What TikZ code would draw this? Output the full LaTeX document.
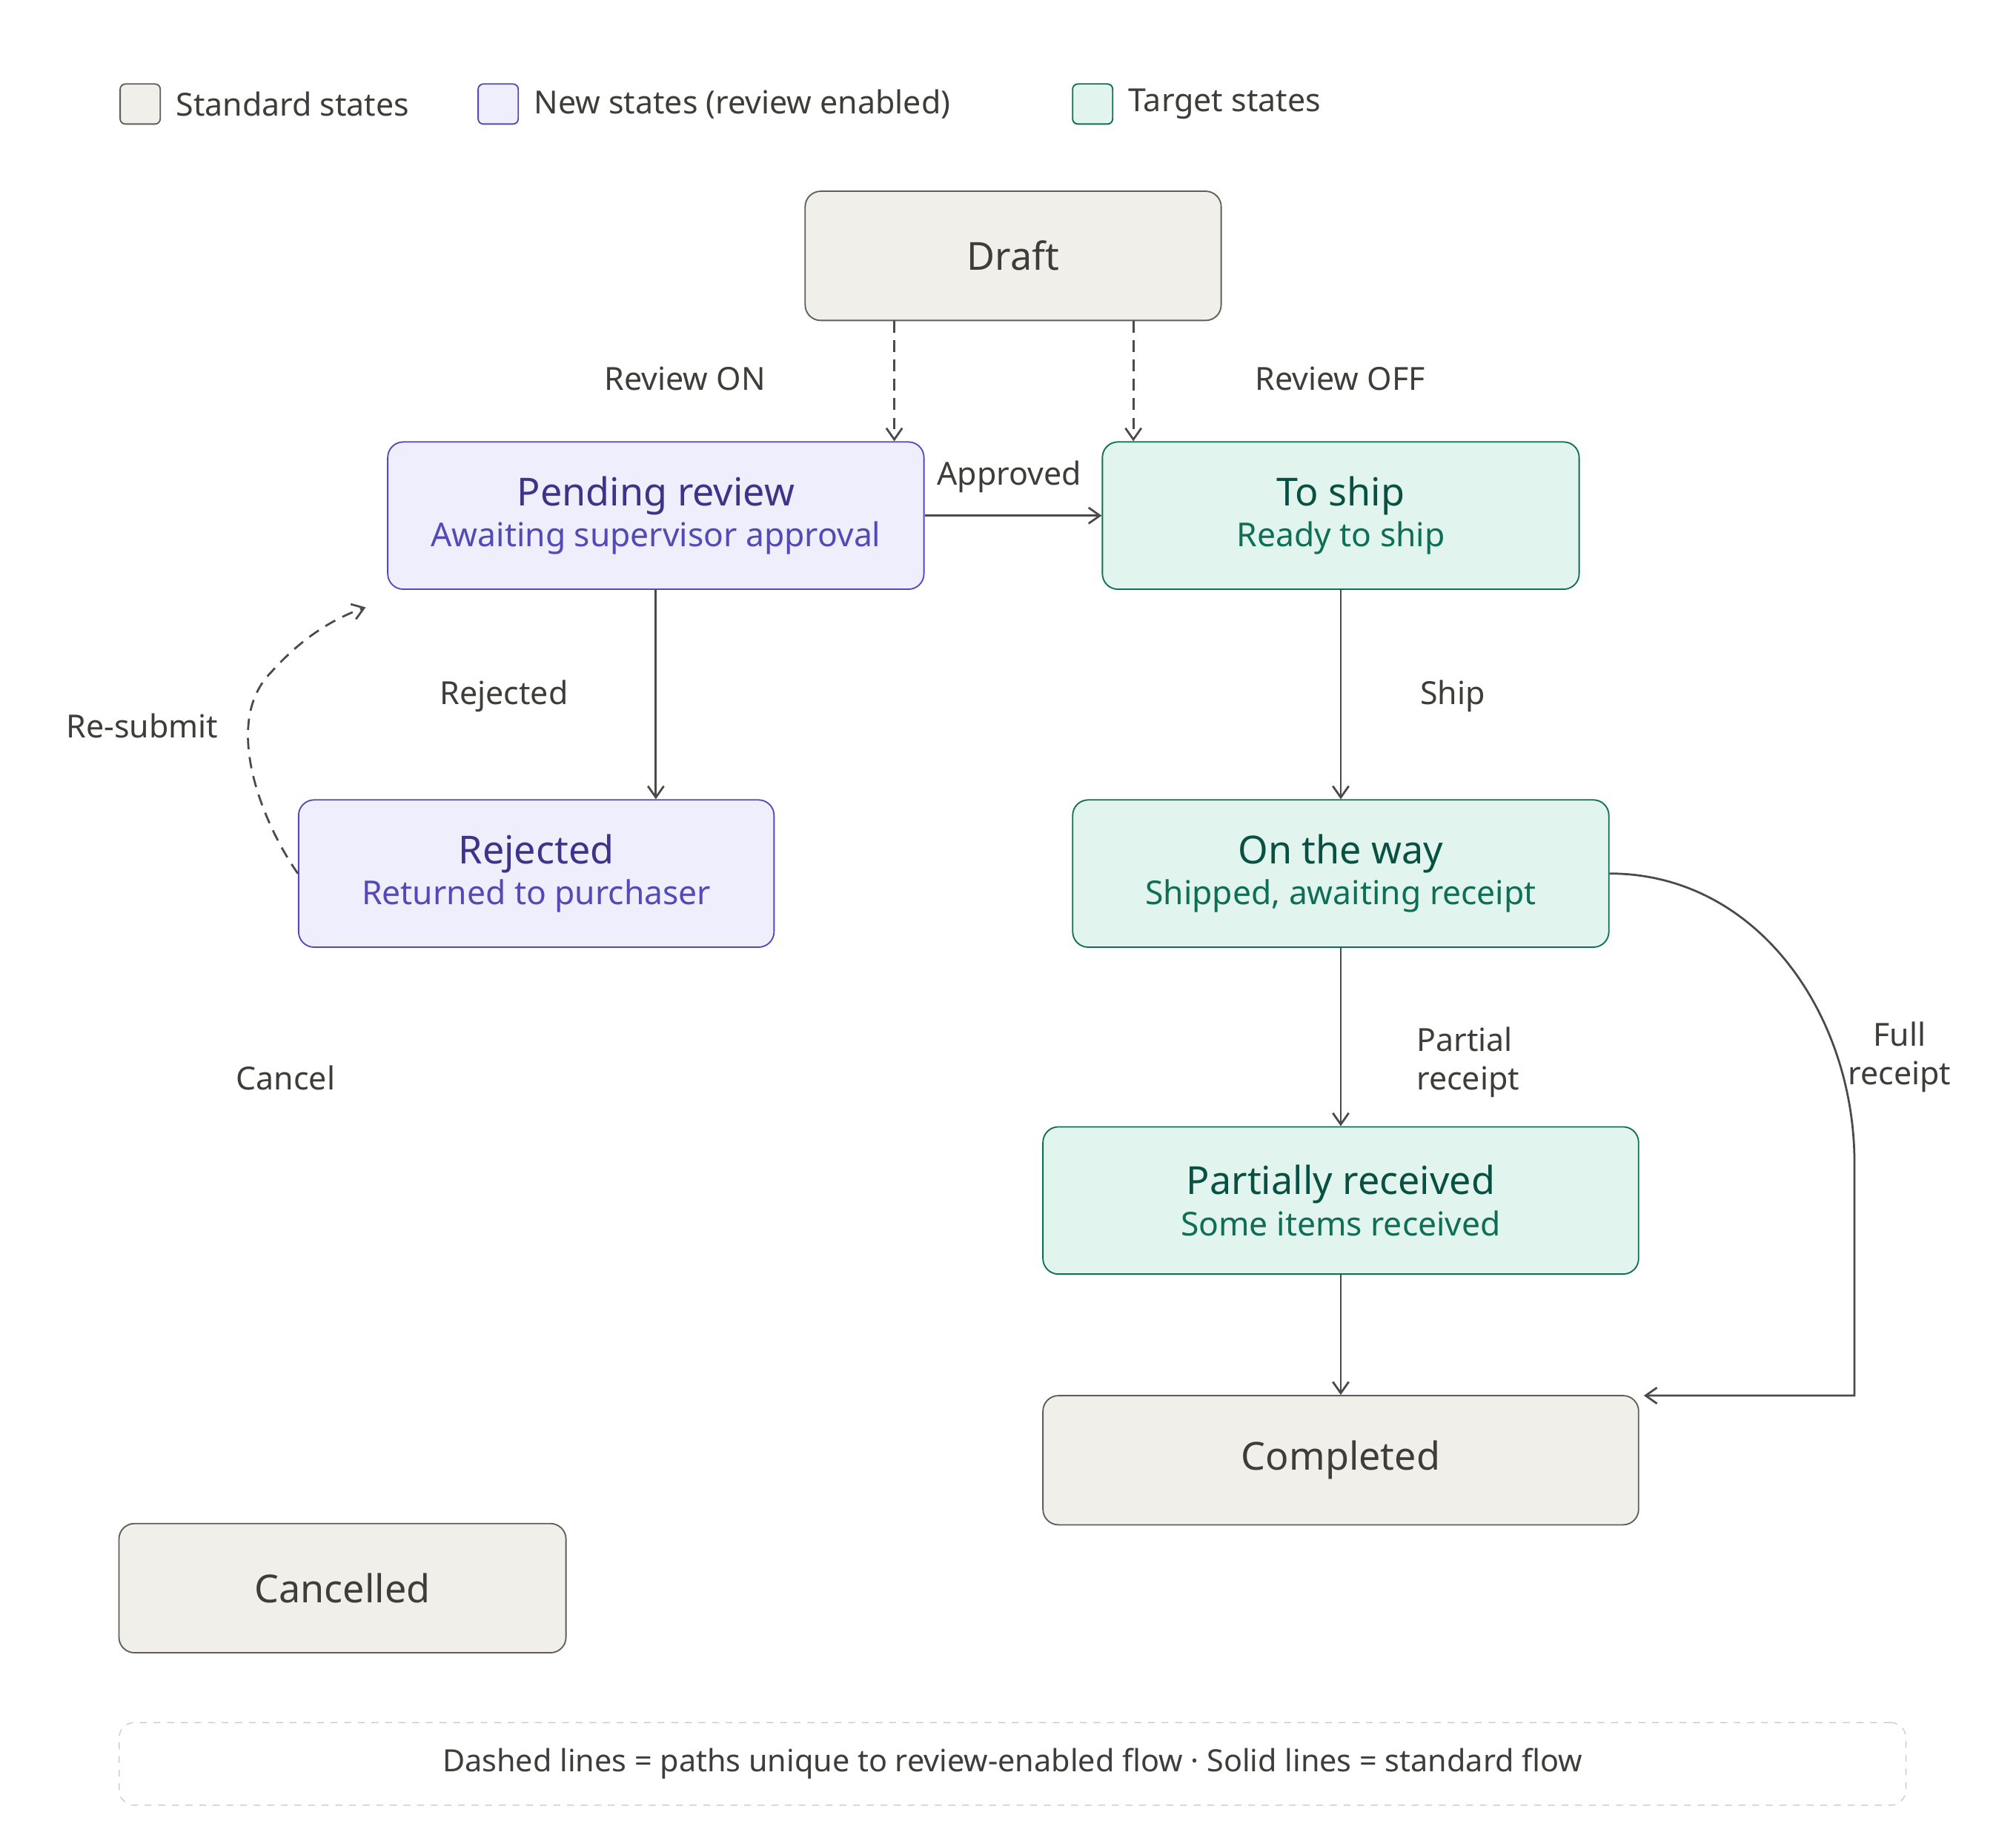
\documentclass[tikz,border=0pt]{standalone}
\usepackage{fontspec}
\setmainfont{Noto Sans}
\usetikzlibrary{arrows.meta,backgrounds}
\definecolor{stdfill}{HTML}{F1EFE9}
\definecolor{stdline}{HTML}{5F5E5A}
\definecolor{stdtext}{HTML}{3D3D3A}
\definecolor{newfill}{HTML}{EEEEFC}
\definecolor{newline}{HTML}{534AB7}
\definecolor{newtitle}{HTML}{3C3489}
\definecolor{newsub}{HTML}{534AB7}
\definecolor{tgtfill}{HTML}{E1F5EE}
\definecolor{tgtline}{HTML}{0F6E56}
\definecolor{tgttitle}{HTML}{085041}
\definecolor{tgtsub}{HTML}{0F6E56}
\definecolor{edge}{HTML}{4A4A48}
\tikzset{
  state/.style={draw, rounded corners=0.24cm, line width=0.6pt, inner sep=0pt, align=center},
  std/.style={state, fill=stdfill, draw=stdline, text=stdtext, font=\fontsize{17}{20}\selectfont\bfseries},
  new/.style={state, fill=newfill, draw=newline},
  tgt/.style={state, fill=tgtfill, draw=tgtline},
  key/.style={draw, rounded corners=0.08cm, minimum size=0.62cm, line width=0.6pt},
  keytext/.style={anchor=west, text=stdtext, font=\fontsize{14}{17}\selectfont},
  lbl/.style={text=stdtext, font=\fontsize{14}{17}\selectfont, align=left},
  flow/.style={draw=edge, line width=0.9pt, -{Straight Barb[length=5pt,width=7pt]}},
  review/.style={flow, dashed, dash pattern=on 5pt off 3.5pt}
}
\newcommand{\twoline}[4]{{\color{#1}\fontsize{17}{20}\selectfont\bfseries #2}\\[2pt]{\color{#3}\fontsize{14.5}{18}\selectfont #4}}
\begin{document}
\begin{tikzpicture}[x=0.02cm,y=-0.02cm]
	\useasboundingbox[fill=white] (0,0) rectangle (1560,1422);
	%legend
	\node[key, fill=stdfill, draw=stdline] (kstd) at (108.5,80.5) {};
	\node[keytext] (kstdt) at (130,80.5) {Standard states};
	\node[key, fill=newfill, draw=newline] (knew) at (385.5,80.5) {};
	\node[keytext] (knewt) at (407,80.5) {New states (review enabled)};
	\node[key, fill=tgtfill, draw=tgtline] (ktgt) at (845.5,80.5) {};
	\node[keytext] (ktgtt) at (867,80.5) {Target states};
	%states
	\node[std, minimum width=6.44cm, minimum height=2cm] (draft) at (784,198) {Draft};
	\node[new, minimum width=8.3cm, minimum height=2.28cm] (pending) at (507.5,399) {\twoline{newtitle}{Pending review}{newsub}{Awaiting supervisor approval}};
	\node[tgt, minimum width=7.38cm, minimum height=2.28cm] (toship) at (1037.5,399) {\twoline{tgttitle}{To ship}{tgtsub}{Ready to ship}};
	\node[new, minimum width=7.36cm, minimum height=2.28cm] (rejected) at (415,676) {\twoline{newtitle}{Rejected}{newsub}{Returned to purchaser}};
	\node[tgt, minimum width=8.3cm, minimum height=2.28cm] (ontheway) at (1037.5,676) {\twoline{tgttitle}{On the way}{tgtsub}{Shipped, awaiting receipt}};
	\node[tgt, minimum width=9.22cm, minimum height=2.28cm] (partial) at (1037.5,929) {\twoline{tgttitle}{Partially received}{tgtsub}{Some items received}};
	\node[std, minimum width=9.22cm, minimum height=2cm] (completed) at (1037.5,1130) {Completed};
	\node[std, minimum width=6.92cm, minimum height=2cm] (cancelled) at (265,1229) {Cancelled};
	%footer
	\node[draw=black!22, dashed, rounded corners=0.24cm, minimum width=27.66cm, minimum height=1.28cm, text=stdtext, font=\fontsize{13.5}{16}\selectfont] (note) at (783.5,1365) {Dashed lines = paths unique to review-enabled flow · Solid lines = standard flow};
	%review paths
	\draw[review] (draft.south -| 692,0) -- (pending.north -| 692,0);
	\draw[review] (draft.south -| 877,0) -- (toship.north -| 877,0);
	\node[lbl] (lon) at (530,293) {Review ON};
	\node[lbl] (loff) at (1037,293) {Review OFF};
	\coordinate (resub) at (283,470);
	\draw[review] (rejected.west) .. controls (205,640) and (170,560) .. (210,520) .. controls (235,492) and (260,478) .. (resub);
	\node[lbl] (lresub) at (110,562) {Re-submit};
	\begin{pgfonlayer}{background}
	\draw[review] (cancelled.north -| 300,0) .. controls (305,950) and (330,720) .. (450,590) .. controls (590,440) and (720,400) .. (toship.west);
	\end{pgfonlayer}
	\node[lbl] (lcancel) at (221,834) {Cancel};
	%standard paths
	\draw[flow] (pending.east) -- (toship.west);
	\node[lbl] (lapp) at (781,369) {Approved};
	\draw[flow] (pending.south) -- (rejected.north -| pending.south);
	\node[lbl] (lrej) at (390,539) {Rejected};
	\draw[flow] (toship.south) -- (ontheway.north);
	\node[lbl] (lship) at (1124,539) {Ship};
	\draw[flow] (ontheway.south) -- (partial.north);
	\node[lbl, anchor=west] (lpart) at (1090,822) {Partial\\receipt};
	\draw[flow] (partial.south) -- (completed.north);
	\coordinate (fullend) at (1272,1080);
	\draw[flow] (ontheway.east) to[out=0,in=90] (1435,900) -- (1435,1080) -- (fullend);
	\node[lbl, align=center] (lfull) at (1470,818) {Full\\receipt};
\end{tikzpicture}
\end{document}
